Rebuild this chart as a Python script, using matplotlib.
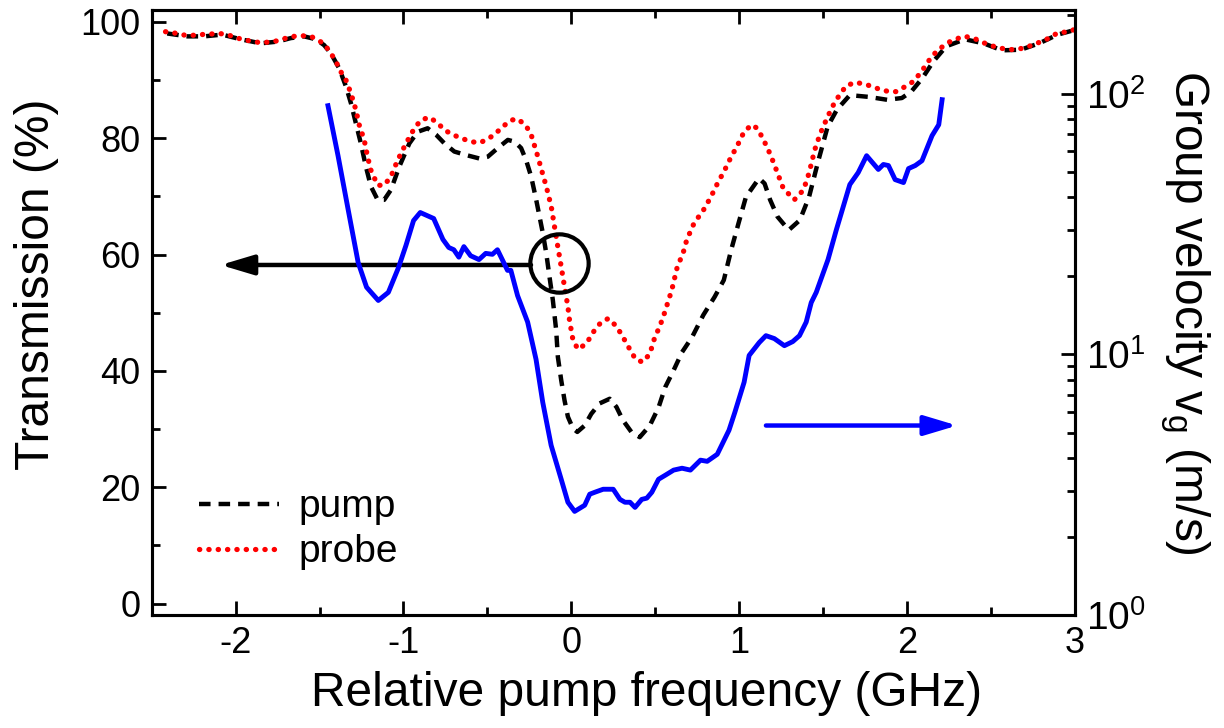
import numpy as np
import matplotlib
matplotlib.use('Agg')
import matplotlib.pyplot as plt
from matplotlib.ticker import MultipleLocator, LogLocator, NullFormatter

plt.rcParams['font.family'] = ['Liberation Sans', 'DejaVu Sans']
plt.rcParams['mathtext.fontset'] = 'custom'
plt.rcParams['mathtext.rm'] = 'Liberation Sans'
plt.rcParams['mathtext.it'] = 'Liberation Sans:italic'
plt.rcParams['axes.unicode_minus'] = False

# transmission of the pump beam (%)
pump_x = [-2.408, -2.288, -2.189, -2.080, -1.970, -1.851, -1.751, -1.672, -1.592, -1.522,
          -1.473, -1.433, -1.383, -1.343, -1.313, -1.284, -1.254, -1.224, -1.194, -1.154,
          -1.115, -1.075, -1.025, -0.965, -0.915, -0.856, -0.806, -0.756, -0.697, -0.627,
          -0.547, -0.498, -0.438, -0.378, -0.338, -0.299, -0.269, -0.239, -0.209, -0.189,
          -0.169, -0.149, -0.130, -0.110, -0.090, -0.080, -0.060, -0.040, -0.020, 0.010,
          0.036, 0.080, 0.119, 0.169, 0.229, 0.269, 0.308, 0.358, 0.408, 0.468,
          0.52, 0.56, 0.61, 0.66, 0.72, 0.787, 0.854, 0.909, 0.953, 0.997,
          1.041, 1.119, 1.152, 1.185, 1.229, 1.296, 1.362, 1.417, 1.473, 1.528,
          1.583, 1.660, 1.771, 1.882, 1.970, 2.026, 2.092, 2.158, 2.235, 2.346,
          2.457, 2.567, 2.678, 2.788, 2.899, 3.0]
pump_t = [98.0, 97.5, 97.5, 97.8, 97.0, 96.3, 96.6, 97.2, 97.5, 97.0,
          96.0, 94.6, 92.0, 88.9, 86.0, 82.6, 79.1, 75.1, 71.7, 69.4,
          69.4, 71.1, 75.1, 79.1, 81.1, 81.7, 80.6, 79.1, 77.7, 77.1,
          76.5, 76.8, 78.3, 79.7, 79.4, 78.3, 76.2, 73.4, 69.4, 66.5,
          63.6, 60.2, 56.2, 52.2, 47.0, 42.4, 38.4, 34.9, 32.1, 30.1,
          29.5, 30.6, 32.6, 34.4, 35.2, 33.8, 31.5, 29.5, 28.6, 30.6,
          33.7, 37.2, 40.1, 43.2, 45.8, 49.6, 52.7, 55.6, 60.8, 65.4,
          69.9, 73.1, 72.2, 69.4, 66.5, 64.2, 65.9, 69.9, 76.2, 82.0,
          84.9, 87.4, 87.1, 86.6, 86.9, 88.0, 90.3, 93.2, 95.8, 97.0,
          96.3, 95.1, 95.2, 96.3, 97.8, 98.6]

# transmission of the probe beam (%)
probe_x = [-2.418, -2.348, -2.288, -2.209, -2.149, -2.099, -2.050, -1.990, -1.930, -1.851,
           -1.771, -1.712, -1.652, -1.602, -1.552, -1.512, -1.473, -1.433, -1.403, -1.373,
           -1.343, -1.313, -1.284, -1.264, -1.234, -1.214, -1.194, -1.154, -1.115, -1.075,
           -1.035, -0.985, -0.935, -0.896, -0.846, -0.796, -0.756, -0.706, -0.657, -0.597,
           -0.547, -0.507, -0.458, -0.408, -0.358, -0.318, -0.269, -0.239, -0.199, -0.169,
           -0.149, -0.119, -0.100, -0.080, -0.060, -0.040, -0.020, -0.010, 0.010, 0.040,
           0.090, 0.139, 0.179, 0.221, 0.264, 0.299, 0.333, 0.383, 0.425, 0.468,
           0.498, 0.527, 0.555, 0.599, 0.632, 0.666, 0.688, 0.732, 0.787, 0.832,
           0.876, 0.909, 0.953, 0.986, 1.030, 1.075, 1.108, 1.141, 1.174, 1.207,
           1.229, 1.263, 1.329, 1.384, 1.417, 1.451, 1.484, 1.528, 1.572, 1.638,
           1.694, 1.760, 1.838, 1.893, 1.937, 1.992, 2.036, 2.081, 2.147, 2.191,
           2.257, 2.335, 2.390, 2.457, 2.545, 2.634, 2.700, 2.766, 2.833, 2.899,
           2.965, 3.0]
probe_t = [98.3, 98.0, 97.6, 97.8, 97.9, 98.0, 97.8, 97.2, 96.8, 96.4,
           96.6, 97.1, 97.5, 97.6, 97.5, 96.9, 96.2, 94.6, 93.2, 91.4,
           90.0, 87.7, 84.9, 82.3, 79.7, 76.8, 74.5, 71.9, 71.9, 73.4,
           76.2, 79.1, 81.7, 83.1, 83.6, 82.6, 81.4, 80.6, 80.0, 79.4,
           79.2, 79.7, 80.6, 82.0, 83.1, 83.3, 82.1, 80.6, 76.8, 73.7,
           71.7, 68.2, 64.8, 61.3, 57.9, 54.4, 51.0, 48.6, 45.3, 43.7,
           44.7, 47.0, 48.4, 49.0, 47.8, 46.3, 44.5, 42.0, 41.5, 42.9,
           45.8, 47.6, 49.9, 53.9, 57.9, 60.2, 62.5, 65.4, 67.6, 69.9,
           72.5, 74.2, 76.8, 78.5, 81.1, 82.3, 81.7, 80.0, 78.0, 75.7,
           74.0, 71.4, 69.4, 71.1, 74.0, 78.0, 80.8, 83.7, 86.3, 89.0,
           89.6, 89.2, 88.4, 88.0, 88.0, 88.9, 89.7, 91.2, 94.0, 95.3,
           96.6, 97.5, 97.3, 96.4, 95.5, 95.2, 95.5, 96.2, 97.0, 98.1,
           98.3, 98.7]

# group velocity (m/s)
vg_x = [-1.45, -1.39, -1.33, -1.27, -1.22, -1.15, -1.09, -1.03, -0.985, -0.94,
        -0.90, -0.82, -0.765, -0.73, -0.70, -0.67, -0.64, -0.60, -0.55, -0.51,
        -0.47, -0.44, -0.38, -0.36, -0.32, -0.26, -0.21, -0.17, -0.12, -0.06,
        -0.02, 0.02, 0.08, 0.11, 0.14, 0.19, 0.25, 0.29, 0.32, 0.35,
        0.38, 0.42, 0.45, 0.48, 0.52, 0.56, 0.61, 0.66, 0.71, 0.77,
        0.81, 0.87, 0.94, 0.975, 1.03, 1.06, 1.12, 1.16, 1.21, 1.27,
        1.32, 1.36, 1.40, 1.43, 1.46, 1.53, 1.58, 1.66, 1.71, 1.76,
        1.83, 1.86, 1.89, 1.93, 1.98, 2.01, 2.05, 2.09, 2.15, 2.19,
        2.21]
vg = [89.9, 57.8, 36.0, 22.5, 18.1, 16.1, 17.3, 21.5, 26.2, 32.6,
      35.0, 33.2, 27.6, 25.7, 25.2, 23.6, 25.9, 23.9, 23.1, 24.4,
      24.2, 25.2, 21.0, 21.0, 16.8, 13.3, 9.57, 6.55, 4.48, 3.32,
      2.71, 2.50, 2.64, 2.91, 2.96, 3.04, 3.04, 2.78, 2.71, 2.71,
      2.59, 2.78, 2.81, 2.96, 3.32, 3.44, 3.60, 3.66, 3.60, 3.93,
      3.89, 4.14, 5.12, 6.0, 7.82, 9.91, 11.1, 11.8, 11.5, 10.8,
      11.2, 11.8, 13.3, 15.8, 17.3, 23.1, 30.1, 44.8, 49.8, 57.8,
      51.2, 53.5, 53.0, 46.8, 45.6, 51.6, 53.0, 55.3, 69.0, 76.0,
      94.8]

fig = plt.figure(figsize=(12.24, 7.28), dpi=100)
ax = fig.add_axes([0.124, 0.155, 0.754, 0.831])
ax2 = ax.twinx()

ax.plot(pump_x, pump_t, color='black', lw=3.2, ls=(0, (2.6, 1.8)), label='pump')
ax.plot(probe_x, probe_t, color='red', lw=3.8, ls=(0, (0.05, 1.72)),
        dash_capstyle='round', label='probe')
ax2.plot(vg_x, vg, color='blue', lw=3.5, solid_joinstyle='round')

# arrows and circle
ax.plot([-0.072], [58.5], 'o', ms=42, mfc='none', mec='black', mew=3)
ax.annotate('', xy=(-2.09, 58.2), xytext=(-0.24, 58.2),
            arrowprops=dict(arrowstyle='-|>,head_length=1.0,head_width=0.3',
                            mutation_scale=20, lw=3.2, color='black',
                            shrinkA=0, shrinkB=0))
ax.annotate('', xy=(2.30, 30.6), xytext=(1.16, 30.6),
            arrowprops=dict(arrowstyle='-|>,head_length=1.0,head_width=0.3',
                            mutation_scale=20, lw=3.2, color='blue',
                            shrinkA=0, shrinkB=0))

ax.set_xlim(-2.5, 3)
ax.set_ylim(-2, 102)
ax2.set_yscale('log')
ax2.set_ylim(1, 10 ** 2.32)

ax.xaxis.set_major_locator(MultipleLocator(1))
ax.xaxis.set_minor_locator(MultipleLocator(0.5))
ax.yaxis.set_major_locator(MultipleLocator(20))
ax.yaxis.set_minor_locator(MultipleLocator(10))
ax2.yaxis.set_major_locator(LogLocator(base=10))
ax2.yaxis.set_minor_locator(LogLocator(base=10, subs=np.arange(2, 10)))
ax2.yaxis.set_minor_formatter(NullFormatter())

ax.tick_params(which='both', direction='in', top=True, right=False, width=2,
               labelsize=26, pad=8)
ax.tick_params(which='major', length=10)
ax.tick_params(which='minor', length=6)
ax2.tick_params(which='both', direction='in', width=2, labelsize=28, pad=8)
ax2.tick_params(which='major', length=10)
ax2.tick_params(which='minor', length=6)

for a in (ax, ax2):
    for s in a.spines.values():
        s.set_linewidth(2.2)

ax.set_xlabel('Relative pump frequency (GHz)', fontsize=34.5)
ax.xaxis.set_label_coords(0.536, -0.093)
ax.set_ylabel('Transmission (%)', fontsize=34.5)
ax.yaxis.set_label_coords(-0.10, 0.547)
ax2.set_ylabel('Group velocity v$_\\mathregular{g}$ (m/s)', fontsize=34.5,
               rotation=270, labelpad=48)

ax.legend(loc='upper left', bbox_to_anchor=(0.051, 0.208), frameon=False,
          fontsize=28, handlelength=2.07, handletextpad=0.5, labelspacing=0.23,
          borderaxespad=0, borderpad=0)

fig.savefig('out.png', dpi=100)
